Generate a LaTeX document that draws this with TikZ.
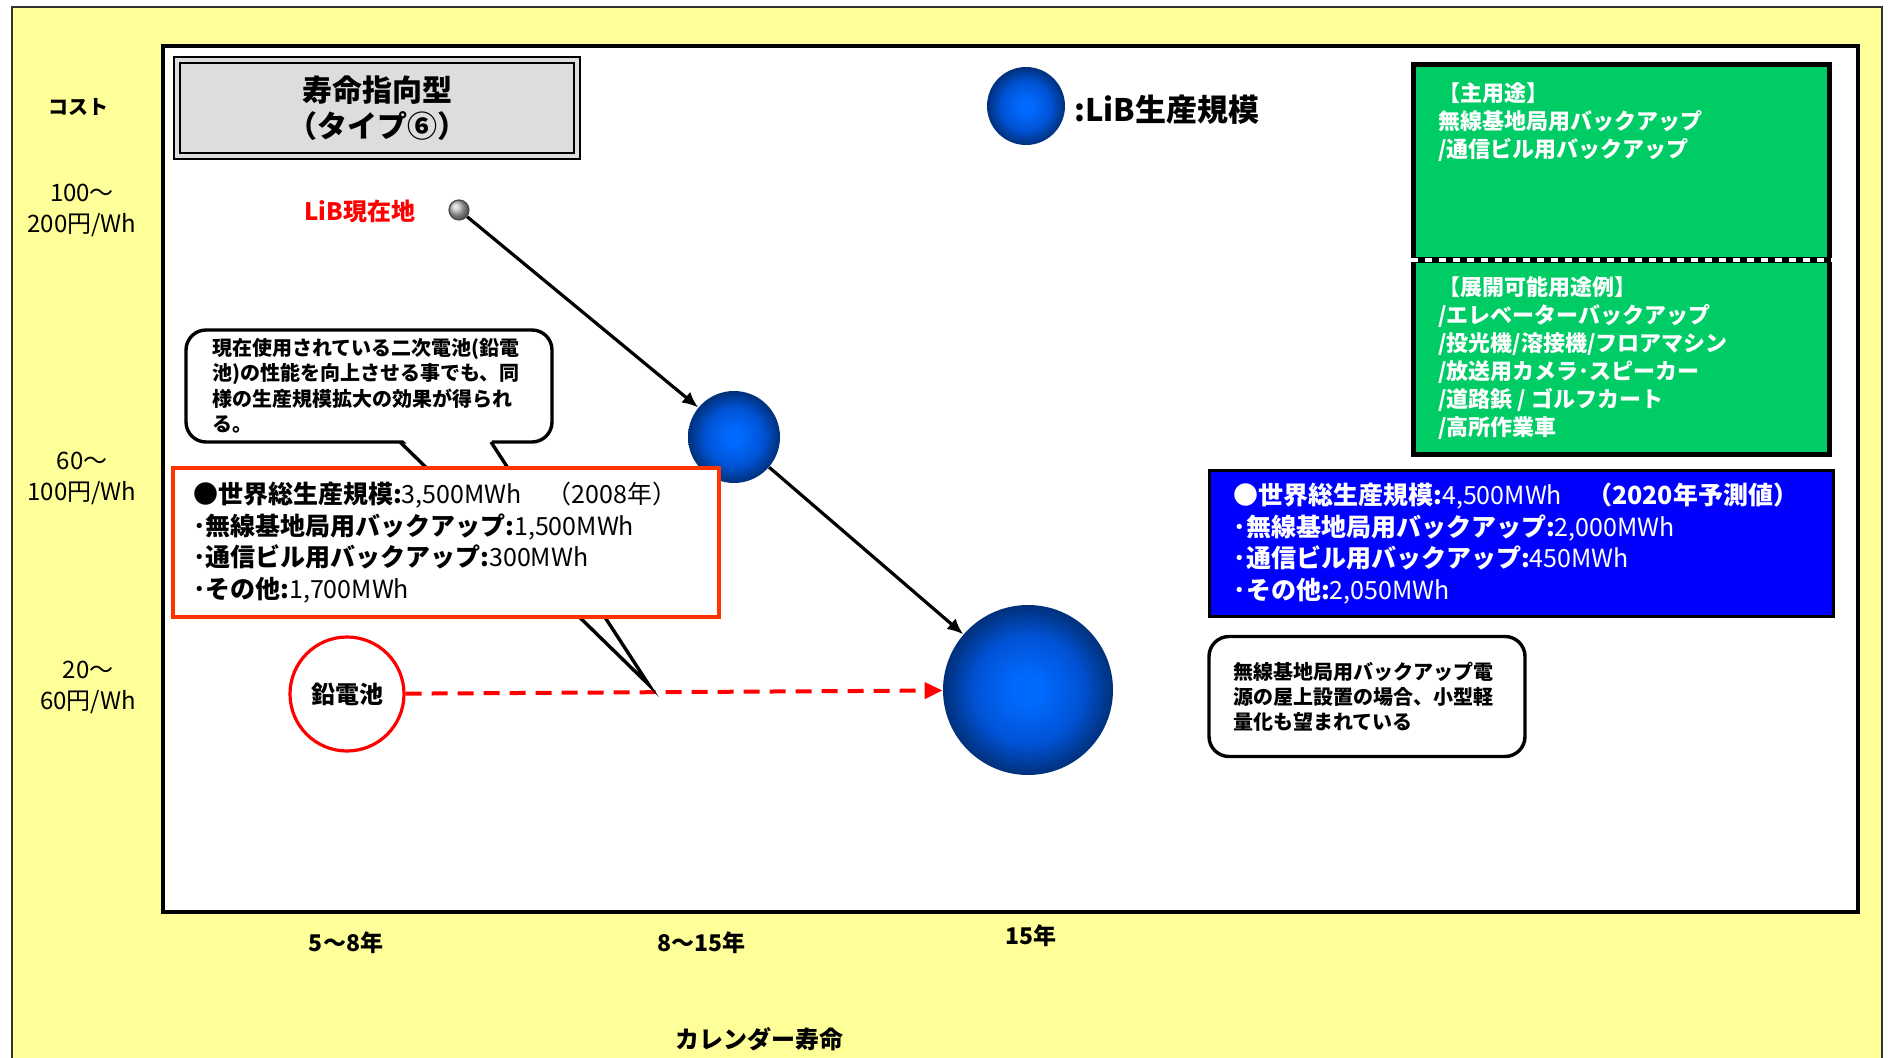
\documentclass[tikz,border=0pt]{standalone}
\usepackage{fontspec}
\setmainfont{Noto Sans CJK JP}
\usetikzlibrary{arrows.meta}

\definecolor{paleyellow}{RGB}{255,255,153}
\definecolor{titlegray}{RGB}{221,221,221}
\definecolor{usegreen}{RGB}{0,204,102}
\definecolor{infoblue}{RGB}{0,0,255}
\definecolor{infored}{RGB}{255,51,0}
\definecolor{sphlight}{RGB}{0,106,255}
\definecolor{sphmid}{RGB}{0,82,212}
\definecolor{sphdark}{RGB}{0,48,122}
\pgfdeclareradialshading{libshade}{\pgfpointorigin}{color(0bp)=(sphlight); color(4bp)=(sphlight); color(16bp)=(sphmid); color(25bp)=(sphdark); color(50bp)=(sphdark)}

\begin{document}
\begin{tikzpicture}[x=0.5pt,y=-0.5pt,
  libball/.style={circle,shading=libshade,inner sep=0pt},
  axislabel/.style={align=center,font=\fontsize{12}{15.5}\selectfont},
  yearlabel/.style={font=\bfseries\fontsize{11.5}{14}\selectfont},
  infotext/.style={align=left,font=\fontsize{12.5}{15.75}\selectfont},
  usetext/.style={anchor=west,align=left,inner sep=0pt,text=white,font=\bfseries\fontsize{11}{14}\selectfont},
  bar/.style={-{Latex[length=8pt,width=7pt]},line width=1.6pt}]
\useasboundingbox (0,0) rectangle (1888,1058);
% frame and plot area
\fill[paleyellow] (12,7) rectangle (1882,1058);
\draw[line width=1.2pt,black!80] (12,1058)--(12,7)--(1882,7)--(1882,1058);
\draw[line width=2pt,fill=white] (163,46) rectangle (1858,912);

% title and legend
\node[draw,line width=1pt,double=titlegray,double distance=2pt,fill=titlegray,minimum width=200pt,minimum height=48pt,
  align=center,font=\bfseries\fontsize{15}{18}\selectfont] (title) at (377,108) {寿命指向型\\（タイプ⑥）};
\node[libball,minimum size=39pt] (legendball) at (1026,106) {};
\node[anchor=west,inner sep=0pt,font=\bfseries\fontsize{15.5}{18}\selectfont] (legendtext) at (1074,110) {:LiB生産規模};

% axis labels
\node[font=\bfseries\fontsize{10}{12}\selectfont] (costlabel) at (78,107) {コスト};
\node[axislabel] (cost1) at (82,210) {100～\\200円/Wh};
\node[axislabel] (cost2) at (82,478) {60～\\100円/Wh};
\node[axislabel] (cost3) at (88,687) {20～\\60円/Wh};
\node[yearlabel] (life1) at (346,943) {5～8年};
\node[yearlabel] (life2) at (701,943) {8～15年};
\node[yearlabel] (life3) at (1031,936) {15年};
\node[font=\bfseries\fontsize{12}{14}\selectfont] (lifelabel) at (759,1039) {カレンダー寿命};

% points
\node[circle,ball color=gray!55,draw=gray!60!black,line width=0.6pt,minimum size=10pt,inner sep=0pt] (libnow) at (459,210) {};
\node[text=red,font=\bfseries\fontsize{12}{14}\selectfont] (libnowlabel) at (360,211) {LiB現在地};
\node[libball,minimum size=46pt] (lib2008) at (734,437) {};
\node[libball,minimum size=85pt] (lib2020) at (1028,690) {};
\node[circle,draw=red,line width=1.6pt,fill=white,minimum size=57pt,inner sep=0pt,
  font=\bfseries\fontsize{12}{14}\selectfont] (lead) at (347,694) {鉛電池};

\draw[bar] (libnow) -- (lib2008);
\draw[bar] (lib2008) -- (lib2020);
\draw[red,line width=2pt,dash pattern=on 8pt off 5pt,-{Triangle[length=9pt,width=8pt]}] (lead) -- (lib2020);

% callout
\node[draw,line width=1.7pt,fill=white,rounded corners=10pt,minimum width=183pt,minimum height=56pt,
  text width=157pt,inner xsep=13pt,align=left,font=\bfseries\fontsize{10}{12.75}\selectfont] (note) at (369,386)
  {現在使用されている二次電池(鉛電\\池)の性能を向上させる事でも、同\\様の生産規模拡大の効果が得られ\\る。};
\coordinate (tailtip) at (649,685);
\fill[white] (401,438) -- (tailtip) -- (490,438) -- cycle;
\draw[line width=1.7pt] (400,442) -- (tailtip) -- (491,442);

% production boxes
\node[draw=infored,line width=1.8pt,fill=white,minimum width=273pt,minimum height=74.5pt,
  text width=253pt,inner xsep=10pt,infotext] (info2008) at (446,542.5)
  {{\bfseries ●世界総生産規模:}3,500MWh\quad（2008年）\\
   {\bfseries ･無線基地局用バックアップ:}1,500MWh\\
   {\bfseries ･通信ビル用バックアップ:}300MWh\\
   {\bfseries ･その他:}1,700MWh};
\node[draw,line width=1.5pt,fill=infoblue,text=white,minimum width=312pt,minimum height=73pt,
  text width=288pt,inner xsep=12pt,infotext] (info2020) at (1521.5,543.5)
  {{\bfseries ●世界総生産規模:}4,500MWh\quad{\bfseries（2020年予測値）}\\
   {\bfseries ･無線基地局用バックアップ:}2,000MWh\\
   {\bfseries ･通信ビル用バックアップ:}450MWh\\
   {\bfseries ･その他:}2,050MWh};
\node[draw,line width=1.7pt,fill=white,rounded corners=10pt,minimum width=158pt,minimum height=60pt,
  text width=134pt,inner xsep=12pt,align=left,font=\bfseries\fontsize{10}{12.5}\selectfont] (roofnote) at (1367,696.5)
  {無線基地局用バックアップ電\\源の屋上設置の場合、小型軽\\量化も望まれている};

% uses
\node[draw,line width=2.5pt,fill=usegreen,minimum width=208pt,minimum height=195pt] (usebox) at (1621.5,260) {};
\draw[line width=2.6pt] (usebox.west) -- (usebox.east);
\draw[white,line width=1.6pt,dash pattern=on 3.5pt off 3.5pt] (usebox.west) -- (usebox.east);
\node[usetext] (mainuse) at (1438,122) {【主用途】\\無線基地局用バックアップ\\/通信ビル用バックアップ};
\node[usetext] (moreuse) at (1438,358) {【展開可能用途例】\\/エレベーターバックアップ\\/投光機/溶接機/フロアマシン\\/放送用カメラ･スピーカー\\/道路鋲 / ゴルフカート\\/高所作業車};
\end{tikzpicture}
\end{document}
